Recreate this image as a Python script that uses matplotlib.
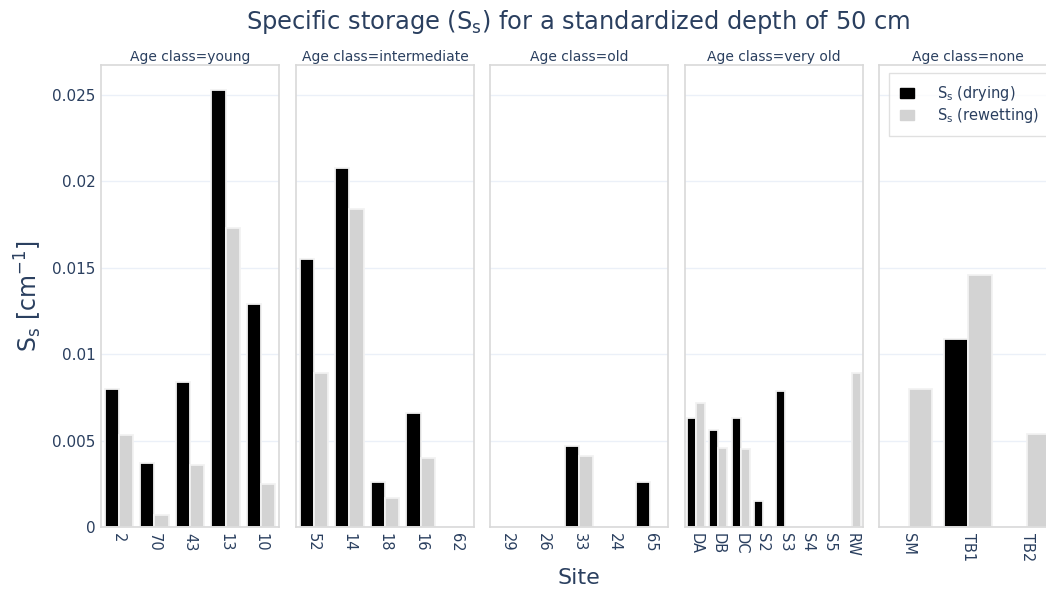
import numpy as np
import matplotlib
matplotlib.use("Agg")
import matplotlib.pyplot as plt
from matplotlib.patches import Patch

plt.rcParams['font.family'] = ['DejaVu Sans']
plt.rcParams['mathtext.fontset'] = 'custom'
plt.rcParams['mathtext.rm'] = 'DejaVu Sans'
plt.rcParams['mathtext.it'] = 'DejaVu Sans'
plt.rcParams['mathtext.default'] = 'regular'

# ---- data ----
age_classes = ["young", "intermediate", "old", "very old", "none"]
sites_young = ["2", "70", "43", "13", "10"]
sites_intermediate = ["52", "14", "18", "16", "62"]
sites_old = ["29", "26", "33", "24", "65"]
sites_very_old = ["DA", "DB", "DC", "S2", "S3", "S4", "S5", "RW"]
sites_none = ["SM", "TB1", "TB2"]

nan = float("nan")
drying_young = [0.0080, 0.0037, 0.0084, 0.0253, 0.0129]
rewetting_young = [0.0053, 0.0007, 0.0036, 0.0173, 0.0025]
drying_intermediate = [0.0155, 0.0208, 0.0026, 0.0066, nan]
rewetting_intermediate = [0.0089, 0.0184, 0.0017, 0.0040, nan]
drying_old = [nan, nan, 0.0047, nan, 0.0026]
rewetting_old = [nan, nan, 0.0041, nan, nan]
drying_very_old = [0.0063, 0.0056, 0.0063, 0.0015, 0.0079, nan, nan, nan]
rewetting_very_old = [0.0072, 0.0046, 0.0045, nan, nan, nan, nan, 0.0089]
drying_none = [nan, 0.0109, nan]
rewetting_none = [0.0080, 0.0146, 0.0054]

y_ticks = [0, 0.005, 0.01, 0.015, 0.02, 0.025]
y_tick_labels = ["0", "0.005", "0.01", "0.015", "0.02", "0.025"]

panels = [
    (sites_young, drying_young, rewetting_young),
    (sites_intermediate, drying_intermediate, rewetting_intermediate),
    (sites_old, drying_old, rewetting_old),
    (sites_very_old, drying_very_old, rewetting_very_old),
    (sites_none, drying_none, rewetting_none),
]

# ---- style ----
W, H = 1046, 590
TXT = "#2a3f5f"
GRID = "#ebf0f8"
FRAME = "#d9d9d9"
DRY = "#000000"
WET = "#d3d3d3"
EDGE = "#f2f2f2"

fig = plt.figure(figsize=(W / 100, H / 100), dpi=100)

lefts = [101, 296, 490, 685, 879]
pw = 178
top, bottom = 65, 527
ymax = 0.02674

axes = []
for i, (left, (sites, dry, wet)) in enumerate(zip(lefts, panels)):
    ax = fig.add_axes([left / W, (H - bottom) / H, pw / W, (bottom - top) / H])
    axes.append(ax)
    x = np.arange(len(sites))
    bw = 0.4
    for xi, v in zip(x, dry):
        if not np.isnan(v):
            ax.bar(xi - bw / 2, v, width=bw, color=DRY, edgecolor=EDGE, linewidth=1.3, zorder=3)
    for xi, v in zip(x, wet):
        if not np.isnan(v):
            ax.bar(xi + bw / 2, v, width=bw, color=WET, edgecolor=EDGE, linewidth=1.3, zorder=3)
    ax.set_xlim(-0.5, len(sites) - 0.5)
    ax.set_ylim(0, ymax)
    ax.set_xticks(x)
    ax.set_xticklabels(sites, rotation=-90, color=TXT, fontsize=10.5)
    ax.set_yticks(y_ticks)
    if i == 0:
        ax.set_yticklabels(y_tick_labels, color=TXT, fontsize=11)
    else:
        ax.set_yticklabels([])
    ax.tick_params(axis="both", length=0, pad=4)
    ax.grid(axis="y", color=GRID, linewidth=1, zorder=0)
    ax.set_axisbelow(True)
    for sp in ax.spines.values():
        sp.set_color(FRAME)
        sp.set_linewidth(1.2)
        sp.set_zorder(4)
    ax.set_title("Age class=" + age_classes[i], color=TXT, fontsize=10, pad=3)

axes[0].set_ylabel("S$_{s}$ [cm$^{-1}$]", color=TXT, fontsize=17, labelpad=6)

fig.text(578 / W, 1 - 22 / H, "Specific storage (S$_{s}$) for a standardized depth of 50 cm",
         ha="center", va="center", color=TXT, fontsize=17.4)
fig.text(579 / W, 1 - 578 / H, "Site", ha="center", va="center", color=TXT, fontsize=16)

handles = [Patch(facecolor=DRY, edgecolor=DRY), Patch(facecolor=WET, edgecolor=WET)]
leg = axes[4].legend(handles, ["S$_{s}$ (drying)", "S$_{s}$ (rewetting)"],
                     loc="upper left", bbox_to_anchor=(10 / pw, 1 - 8 / (bottom - top)),
                     borderaxespad=0, fontsize=10.5,
                     frameon=True, fancybox=False, handlelength=0.95, handleheight=0.7,
                     handletextpad=1.6, borderpad=0.75, labelspacing=0.2)
leg.get_frame().set_edgecolor(FRAME)
leg.get_frame().set_linewidth(1.0)
for t in leg.get_texts():
    t.set_color(TXT)

fig.savefig("out.png", dpi=100)
